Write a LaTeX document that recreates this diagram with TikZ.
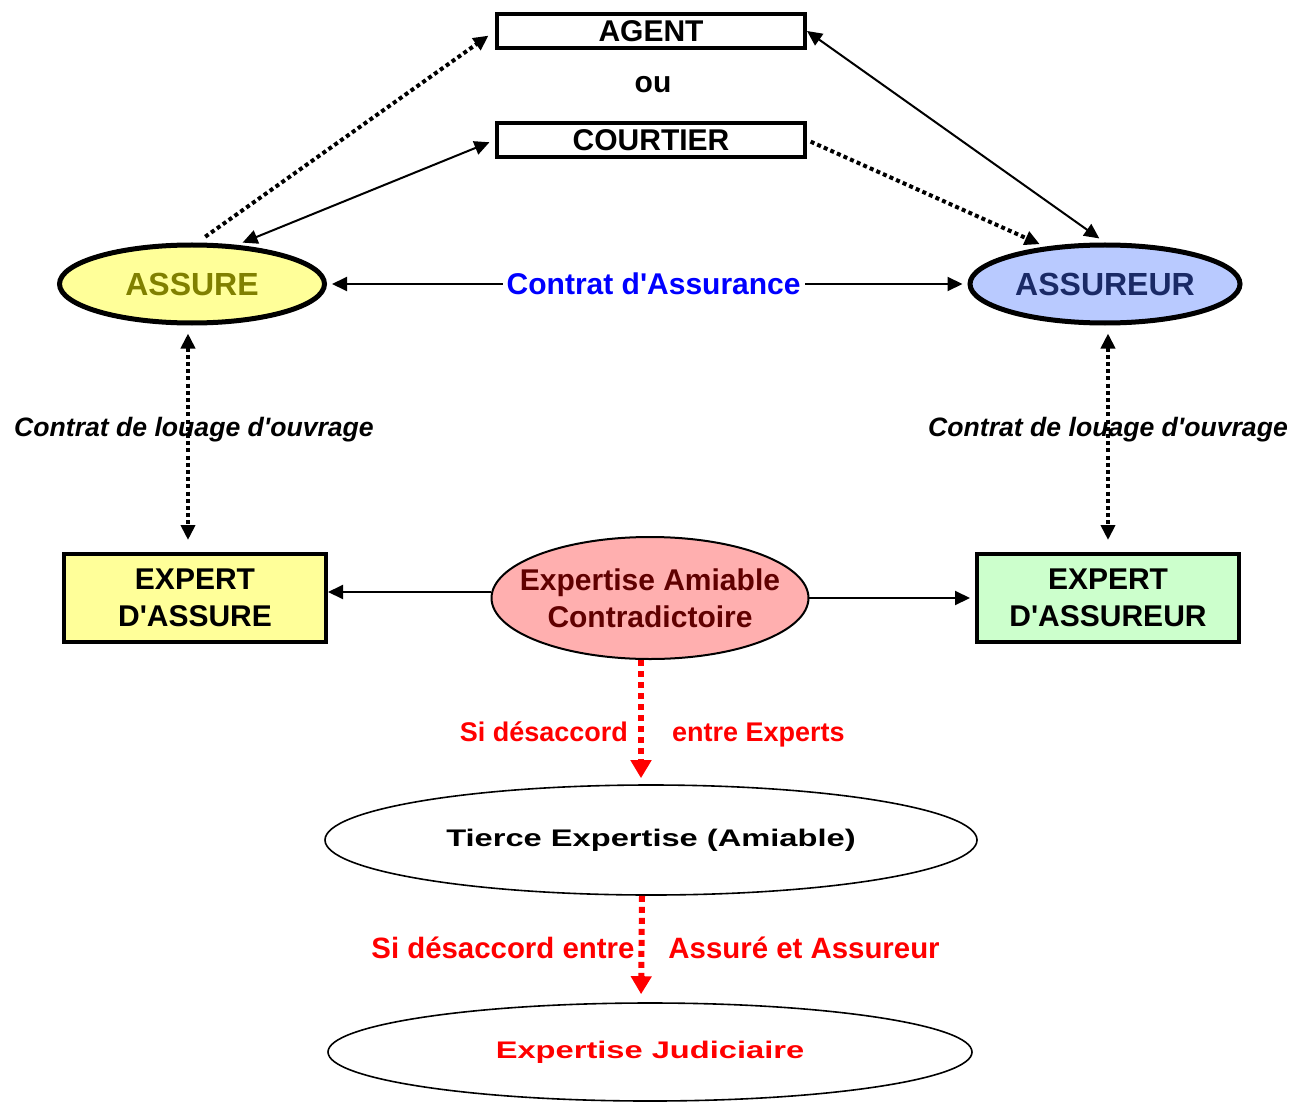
\documentclass[tikz,border=0pt]{standalone}
\usepackage{fontspec}
\setmainfont{Liberation Sans}
\usetikzlibrary{shapes.geometric,arrows.meta}
\definecolor{assurefond}{RGB}{255,255,153}
\definecolor{assuretexte}{RGB}{128,128,0}
\definecolor{assureurfond}{RGB}{185,202,255}
\definecolor{assureurtexte}{RGB}{26,42,102}
\definecolor{expertvert}{RGB}{204,255,204}
\definecolor{amiablefond}{RGB}{255,175,175}
\definecolor{amiabletexte}{RGB}{96,0,0}
\newcommand{\etire}[1]{\scalebox{1.36}[1]{#1}}

\begin{document}
\begin{tikzpicture}[x=0.5pt,y=-0.5pt,>={Triangle[length=7.5pt,width=7pt]},
	every node/.style={font=\bfseries\fontsize{15}{18.5}\selectfont},
	cadre/.style={draw,line width=2pt,inner sep=0pt,minimum width=154pt,minimum height=17pt},
	partie/.style={ellipse,draw,line width=2.5pt,inner sep=0pt,minimum width=132.5pt,minimum height=39pt,font=\bfseries\fontsize{16}{19}\selectfont},
	expert/.style={draw,line width=2pt,align=center,inner sep=0pt,minimum width=131pt,minimum height=44pt},
	etape/.style={ellipse,draw,line width=0.8pt,inner sep=0pt,font=\bfseries\fontsize{12}{14}\selectfont},
	fleche/.style={line width=1pt},
	pointille/.style={line width=2pt,dash pattern=on 2pt off 1.6pt},
	rouge/.style={red,line width=3pt,dash pattern=on 3pt off 2.5pt,-{Triangle[length=9pt,width=10pt]}},
	louage/.style={font=\bfseries\itshape\fontsize{13.3}{16}\selectfont},
	desaccord/.style={text=red,inner sep=0pt,text height=1.6ex,text depth=.25ex}]
			\useasboundingbox (0,0) rectangle (1293,1101);
			\node[cadre] (agent) at (651,31) {AGENT};
			\node (ou) at (653,85) {ou};
			\node[cadre] (courtier) at (651,140) {COURTIER};
			\node[partie,fill=assurefond,text=assuretexte] (assure) at (192,284) {ASSURE};
			\node[partie,fill=assureurfond,text=assureurtexte,minimum width=135pt] (assureur) at (1105,284) {ASSUREUR};
			\node[expert,fill=assurefond] (expertA) at (195,598) {EXPERT\\D\textquotesingle ASSURE};
			\node[expert,fill=expertvert] (expertB) at (1108,598) {EXPERT\\D\textquotesingle ASSUREUR};
			\node[etape,line width=1pt,fill=amiablefond,text=amiabletexte,align=center,inner xsep=-9pt,minimum width=156pt,minimum height=61pt,font=\bfseries\fontsize{15}{18.5}\selectfont] (amiable) at (650,598) {Expertise Amiable\\Contradictoire};
			\node[etape,minimum width=326pt,minimum height=55pt] (tierce) at (651,840) {\etire{Tierce Expertise (Amiable)}};
			\node[etape,text=red,minimum width=322pt,minimum height=49pt] (judiciaire) at (650,1052) {\etire{Expertise Judiciaire}};
			\draw[pointille,->,shorten <=5pt,shorten >=4pt] (assure.83) -- (agent.west);
			\draw[pointille,->,shorten <=2pt,shorten >=3pt] (courtier.east) -- (assureur.148);
			\path[fleche,<->]
			(assure.41) edge[shorten <=3pt,shorten >=3pt] (courtier.west)
			(agent.east) edge[shorten >=3.5pt] (assureur.north)
			(assure) edge[shorten <=2.5pt,shorten >=2.5pt] node[pos=.51,fill=white,text=blue,inner sep=2pt] {Contrat d\textquotesingle Assurance} (assureur);
			\draw[pointille,<->,shorten <=4pt,shorten >=6pt] ([xshift=-2pt]assure.south) -- node[pos=.46,louage,xshift=3pt] {Contrat de louage d\textquotesingle ouvrage} ([xshift=-3.5pt]expertA.north);
			\draw[pointille,<->,shorten <=4pt,shorten >=6pt] ([xshift=1.5pt]assureur.south) -- node[pos=.46,louage] {Contrat de louage d\textquotesingle ouvrage} (expertB.north);
			\path[fleche,->]
			([yshift=3pt]amiable.west) edge ([yshift=3pt]expertA.east)
			(amiable.east) edge[shorten >=2.5pt] (expertB.west);
			\draw[rouge,shorten >=3pt] ([xshift=-4.5pt]amiable.south) -- node[pos=.6,desaccord,left=5pt,font=\bfseries\fontsize{13.5}{16}\selectfont] {Si désaccord} node[pos=.6,desaccord,right=14pt,font=\bfseries\fontsize{13.5}{16}\selectfont] {entre Experts} ([xshift=-5pt]tierce.north);
			\draw[rouge,shorten >=4pt] ([xshift=-4.5pt]tierce.south) -- node[pos=.52,desaccord,left=2pt,font=\bfseries\fontsize{14.7}{18}\selectfont] {Si désaccord entre} node[pos=.52,desaccord,right=12pt,font=\bfseries\fontsize{14.7}{18}\selectfont] {Assuré et Assureur} ([xshift=-4.5pt]judiciaire.north);
		\end{tikzpicture}
\end{document}
